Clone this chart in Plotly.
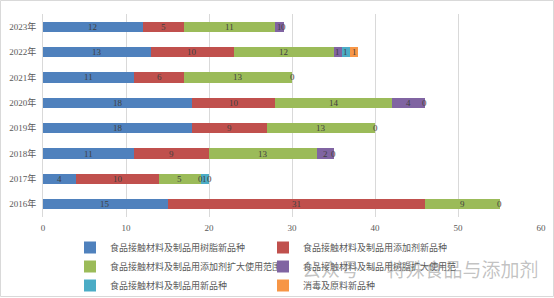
import plotly.graph_objects as go

years = ["2016年", "2017年", "2018年", "2019年", "2020年", "2021年", "2022年", "2023年"]
series_names = [
    "食品接触材料及制品用树脂新品种",
    "食品接触材料及制品用添加剂新品种",
    "食品接触材料及制品用添加剂扩大使用范围",
    "食品接触材料及制品用树脂扩大使用范围",
    "食品接触材料及制品用新品种",
    "消毒及原料新品种",
]
resin_new = [15, 4, 11, 18, 18, 11, 13, 12]
additive_new = [31, 10, 9, 9, 10, 6, 10, 5]
additive_expand = [9, 5, 13, 13, 14, 13, 12, 11]
resin_expand = [0, 0, 2, 0, 4, 0, 1, 1]
fcm_new = [None, 1, 0, None, 0, None, 1, 0]
disinfect_new = [None, 0, None, None, None, None, 1, None]
x_ticks = [0, 10, 20, 30, 40, 50, 60]

series = [resin_new, additive_new, additive_expand, resin_expand, fcm_new, disinfect_new]
colors = ["#4F81BD", "#C0504D", "#9BBB59", "#8064A2", "#4BACC6", "#F79646"]

W, H = 554, 298
ml, mr, mt, mb = 43, 13, 14, 81
pw, ph = W - ml - mr, H - mt - mb

fig = go.Figure()
for name, vals, col in zip(series_names, series, colors):
    fig.add_trace(go.Bar(
        y=years, x=vals, name=name, orientation="h",
        marker=dict(color=col, line=dict(width=0)),
    ))

# data labels
annotations = []
cum = [0] * len(years)
for vals in series:
    for i, v in enumerate(vals):
        if v is None:
            continue
        annotations.append(dict(
            x=cum[i] + v / 2, y=years[i], xref="x", yref="y", text=str(v),
            showarrow=False, font=dict(size=9, color="#404040",
                                        family="Liberation Serif, serif"),
            xanchor="center", yanchor="middle"))
        cum[i] += v

# watermark
annotations.append(dict(
    x=(420 - ml) / pw, y=(H - mb - 268) / ph, xref="paper", yref="paper",
    xanchor="center", yanchor="middle",
    text="公众号 · 特殊食品与添加剂",
    showarrow=False, font=dict(size=19, color="rgba(120,120,120,0.45)",
                                family="Noto Sans CJK SC"),
))
fig.layout.annotations = annotations

fig.update_layout(
    width=W, height=H,
    margin=dict(l=ml, r=mr, t=mt, b=mb, pad=0, autoexpand=False),
    barmode="stack", bargap=0.6,
    plot_bgcolor="white", paper_bgcolor="white",
    font=dict(family="Noto Sans CJK SC, sans-serif", size=9, color="#595959"),
    xaxis=dict(range=[0, 60], tickvals=x_ticks, showgrid=True, gridcolor="#D9D9D9",
               gridwidth=1, zeroline=False, showline=False, ticks="",
               ticklabelstandoff=4,
               tickfont=dict(size=9, color="#595959", family="Liberation Serif, serif")),
    yaxis=dict(showline=True, linecolor="#D9D9D9", linewidth=1, ticks="",
               ticklabelstandoff=4,
               tickfont=dict(size=9, color="#595959", family="Liberation Serif, Noto Sans CJK SC, serif")),
    legend=dict(orientation="h", x=(70 - ml) / pw, xanchor="left",
                y=(H - mb - 233) / ph, yanchor="top",
                entrywidth=148, entrywidthmode="pixels", traceorder="normal",
                font=dict(size=9, color="#595959", family="Noto Sans CJK SC"),
                itemwidth=30, tracegroupgap=0, bgcolor="rgba(0,0,0,0)"),
    showlegend=True,
)

# thin outer border
fig.add_shape(type="rect", xref="paper", yref="paper",
              x0=-(ml - 0.5) / pw, x1=1 + (mr - 0.5) / pw,
              y0=-(mb - 1.5) / ph, y1=1 + (mt - 0.5) / ph,
              line=dict(color="#D9D9D9", width=1), layer="below")

fig.write_html("out.html")
